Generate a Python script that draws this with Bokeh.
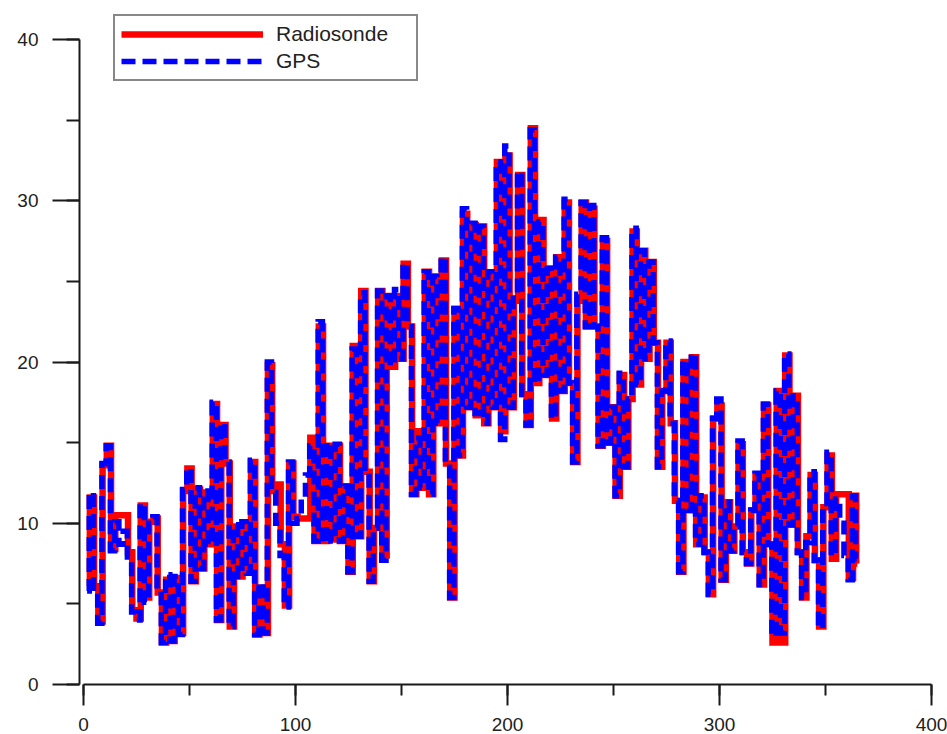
from bokeh.plotting import figure
from bokeh.models import Legend, LegendItem, SingleIntervalTicker
from bokeh.embed import file_html
from bokeh.resources import INLINE

x_ticks = [0, 100, 200, 300, 400]
y_ticks = [0, 10, 20, 30, 40]
series_names = ["Radiosonde", "GPS"]

days = list(range(2, 366, 2)) + [365]
gps_days = [d - 0.3 for d in days]

radiosonde = [
    6.1, 11.6, 6.1, 3.9, 13.6, 14.8, 8.4, 10.5, 10.5, 10.5, 8.2, 4.6, 4.1, 11.1, 5.4, 10.1, 10.3, 5.7, 2.6, 6.5,
    2.7, 6.6, 3.2, 12, 13.4, 6.4, 12.1, 7.2, 11.9, 8.7, 17.4, 4, 16.1, 13.7, 3.6, 9.8, 6.7, 9.8, 7, 13.8,
    3.1, 6, 3.2, 19.8, 12, 12.4, 8.7, 4.9, 13.7, 10.4, 10.3, 10.3, 10.3, 15.3, 8.9, 22.2, 8.9, 14.8, 9, 14.8,
    8.9, 12.3, 7, 21, 9.2, 24.4, 13.2, 6.4, 9.7, 24.4, 8, 24.1, 19.7, 24.1, 20.2, 26.1, 22.2, 11.8, 15.7, 12.2,
    25.6, 11.8, 25.3, 16.2, 26.3, 13.7, 5.4, 23.3, 14.2, 29.2, 17.2, 28.5, 16.7, 28.4, 16.2, 25.5, 17.2, 32.4, 15.7, 32.8,
    17.2, 23.8, 31.6, 18, 16.1, 34.5, 18.7, 28.8, 19.2, 25.8, 16.5, 26.5, 18.2, 29.9, 18.7, 13.8, 23.8, 29.9, 22.2, 29.5,
    22.2, 14.8, 27.5, 15, 17.2, 11.7, 19.2, 13.5, 17.7, 28.1, 18.6, 26.9, 20.2, 26.2, 21.2, 13.5, 18.2, 21.2, 16.2, 11.4,
    7, 20, 10.8, 20.3, 8.7, 11.6, 8.2, 5.6, 16.5, 17.3, 6.5, 11.3, 8.3, 9.8, 14.9, 8.2, 7.5, 10.8, 12.9, 6.2,
    17.3, 8.7, 2.6, 18.2, 2.6, 20.4, 9.9, 17.9, 8.2, 5.4, 9.2, 13, 7.7, 3.6, 11, 14.2, 7.8, 11.8, 11.8, 11.8,
    6.6, 11.7, 7.5,
]

gps = [
    5.8, 11.9, 5.8, 3.8, 13.7, 14.8, 8.3, 10.1, 8.7, 9.5, 7.9, 4.5, 4, 11.2, 5.1, 10.2, 10.4, 5.6, 2.6, 6.8,
    2.7, 6.7, 3.1, 12.1, 13.4, 6.4, 12.2, 7.2, 12, 8.7, 17.5, 4, 16.2, 13.8, 3.6, 9.9, 6.7, 10.1, 6.9, 13.9,
    3.1, 6.3, 3.2, 20, 11.9, 10, 8, 4.8, 13.8, 10, 10.3, 11.5, 13, 14.8, 8.9, 22.5, 8.8, 15, 8.9, 14.9,
    8.9, 12.3, 7, 20.8, 9.2, 24.3, 13.2, 6.4, 9.7, 24.4, 7.7, 24.1, 19.8, 24.5, 20.2, 26.1, 22.2, 11.8, 15.3, 12.2,
    25.6, 11.8, 25.3, 16.2, 26.5, 13.7, 5.4, 23.3, 14.2, 29.5, 17.2, 28.6, 16.8, 28.4, 16.2, 25.6, 17.2, 32.4, 15.2, 33.4,
    17.2, 24.2, 31.8, 18, 16.1, 34.4, 18.7, 28.7, 19.2, 25.8, 16.5, 26.5, 18.2, 30.1, 18.7, 13.8, 24.2, 29.9, 22.2, 29.7,
    22.2, 14.8, 27.7, 15, 17.2, 11.7, 19.3, 13.5, 17.7, 28.3, 18.6, 26.9, 20.2, 26.2, 21.2, 13.5, 18.2, 21.3, 16.2, 11.4,
    7, 20.1, 10.8, 20.5, 8.7, 11.7, 8.2, 5.6, 16.5, 17.7, 6.5, 11.3, 8.3, 9.8, 15.1, 8.2, 7.5, 10.8, 13.1, 6.2,
    17.4, 8.7, 3, 18.2, 3.2, 20.5, 9.9, 17.9, 8.2, 5.4, 8.8, 13.2, 7.7, 3.5, 11, 14.4, 8, 11.5, 10, 8,
    6.5, 11.7, 7.8,
]

FONT = "Liberation Sans"
INK = "#1a1a1a"

p = figure(width=947, height=734, output_backend="svg", toolbar_location=None,
           x_range=(-1.887, 400), y_range=(0, 42.42),
           min_border_left=79, min_border_right=16, min_border_top=0, min_border_bottom=50)
p.outline_line_color = None
p.grid.visible = False
p.background_fill_color = "white"

r1 = p.step(days, radiosonde, mode="center", line_color="#ff0000", line_width=6.5, line_join="miter", line_cap="butt")
r2 = p.step(gps_days, gps, mode="center", line_color="#0000ff", line_width=5.5, line_dash="14 7", line_join="miter", line_cap="butt")

xa = p.xaxis[0]
xa.ticker = SingleIntervalTicker(interval=x_ticks[1] - x_ticks[0], num_minor_ticks=2)
xa.bounds = (x_ticks[0], x_ticks[-1])
xa.major_tick_out = 21
xa.major_tick_in = 0
xa.minor_tick_out = 11
xa.minor_tick_in = 0
xa.major_label_standoff = 12

ya = p.yaxis[0]
ya.ticker = SingleIntervalTicker(interval=y_ticks[1] - y_ticks[0], num_minor_ticks=2)
ya.bounds = (y_ticks[0], y_ticks[-1])
ya.major_tick_out = 27
ya.major_tick_in = 0
ya.minor_tick_out = 13
ya.minor_tick_in = 0
ya.major_label_standoff = 14

for a in (xa, ya):
    a.axis_line_color = INK
    a.axis_line_width = 2
    a.major_tick_line_color = INK
    a.major_tick_line_width = 2
    a.minor_tick_line_color = INK
    a.minor_tick_line_width = 2
    a.major_label_text_font = FONT
    a.major_label_text_font_size = "19px"
    a.major_label_text_color = "#222222"

leg = Legend(items=[LegendItem(label=series_names[0], renderers=[r1]),
                    LegendItem(label=series_names[1], renderers=[r2])],
             location=(34, 603), orientation="vertical",
             glyph_width=142, glyph_height=20, label_height=20, label_width=134,
             label_standoff=13, spacing=3, padding=6, margin=0,
             label_text_font=FONT, label_text_font_size="21px", label_text_color="#222222",
             border_line_color="#111111", border_line_width=2, background_fill_alpha=1)
p.add_layout(leg, "center")

open("out.html", "w").write(file_html(p, INLINE))
